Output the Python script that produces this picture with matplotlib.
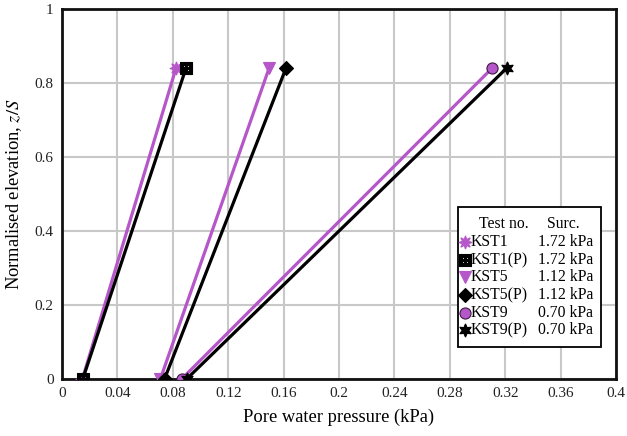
import numpy as np
import matplotlib
matplotlib.use("Agg")
import matplotlib.pyplot as plt
from matplotlib.path import Path
from matplotlib.patches import Rectangle

plt.rcParams["font.family"] = ["Liberation Serif", "DejaVu Serif"]
plt.rcParams["mathtext.fontset"] = "stix"

# Test series: pore water pressure (kPa) at the base (z/S = 0) and near the top (z/S = 0.84)
tests = ["KST1", "KST1(P)", "KST5", "KST5(P)", "KST9", "KST9(P)"]
surcharge = ["1.72 kPa", "1.72 kPa", "1.12 kPa", "1.12 kPa", "0.70 kPa", "0.70 kPa"]
elevation = [0.0, 0.84]
pwp_kst1 = [0.0147, 0.0823]
pwp_kst1p = [0.0150, 0.0895]
pwp_kst5 = [0.0710, 0.1495]
pwp_kst5p = [0.0740, 0.1617]
pwp_kst9 = [0.0864, 0.3105]
pwp_kst9p = [0.0900, 0.3210]
series = [pwp_kst1, pwp_kst1p, pwp_kst5, pwp_kst5p, pwp_kst9, pwp_kst9p]

x_ticks = [0, 0.04, 0.08, 0.12, 0.16, 0.2, 0.24, 0.28, 0.32, 0.36, 0.4]
x_tick_labels = ["0", "0.04", "0.08", "0.12", "0.16", "0.2", "0.24", "0.28", "0.32", "0.36", "0.4"]
y_ticks = [0, 0.2, 0.4, 0.6, 0.8, 1.0]
y_tick_labels = ["0", "0.2", "0.4", "0.6", "0.8", "1"]

PURPLE = "#B657C9"
BLACK = "#000000"


def dotted_square():
    # filled square with four small square holes
    verts, codes = [], []
    def sq(cx, cy, h, ccw):
        pts = [(cx - h, cy - h), (cx + h, cy - h), (cx + h, cy + h), (cx - h, cy + h)]
        if not ccw:
            pts = pts[::-1]
        verts.extend(pts + [pts[0]])
        codes.extend([Path.MOVETO, Path.LINETO, Path.LINETO, Path.LINETO, Path.CLOSEPOLY])
    sq(0, 0, 1.0, True)
    for dx in (-0.33, 0.33):
        for dy in (-0.33, 0.33):
            sq(dx, dy, 0.14, False)
    return Path(verts, codes)


styles = [
    dict(color=PURPLE, marker=(8, 1, 0), ms=9.5, mfc=PURPLE, mec=PURPLE),
    dict(color=BLACK, marker=dotted_square(), ms=9, mfc=BLACK, mec=BLACK),
    dict(color=PURPLE, marker="v", ms=8, mfc=PURPLE, mec=PURPLE),
    dict(color=BLACK, marker="D", ms=7, mfc=BLACK, mec=BLACK),
    dict(color=PURPLE, marker="o", ms=8, mfc=PURPLE, mec="#3a1a40"),
    dict(color=BLACK, marker=(6, 1, 0), ms=9.5, mfc=BLACK, mec=BLACK),
]

fig = plt.figure(figsize=(6.27, 4.36), dpi=100)
ax = fig.add_axes([0.0989, 0.1307, 0.8836, 0.8487])

for vals, st in zip(series, styles):
    ax.plot(vals, elevation, lw=2.3, mew=0.8, zorder=3, **st)

ax.set_xlim(0, 0.4)
ax.set_ylim(0, 1)
ax.set_xticks(x_ticks)
ax.set_xticklabels(x_tick_labels)
ax.set_yticks(y_ticks)
ax.set_yticklabels(y_tick_labels)
ax.tick_params(length=0, labelsize=11, pad=6, colors="#222222")
ax.grid(True, color="#C8C8C8", lw=1.5)
ax.set_axisbelow(True)
for s in ax.spines.values():
    s.set_linewidth(2)
    s.set_color("#111111")

ax.set_xlabel("Pore water pressure (kPa)", fontsize=13.3, labelpad=6)
ax.set_ylabel("Normalised elevation, $\\it{z/S}$", fontsize=13.3, labelpad=8)

# Legend panel drawn in axes fractions
def px_x(p):
    return (p - 62) / (616 - 62)

def px_y(p):
    return (379 - p) / (379 - 9)

ax.add_patch(Rectangle((px_x(458), px_y(347)), px_x(601) - px_x(458), px_y(207) - px_y(347),
                       transform=ax.transAxes, facecolor="white", edgecolor="black",
                       lw=1.3, zorder=5))
ax.text(px_x(479), px_y(224), "Test no.", transform=ax.transAxes, fontsize=11.3,
        va="center", ha="left", zorder=6)
ax.text(px_x(547), px_y(224), "Surc.", transform=ax.transAxes, fontsize=11.3,
        va="center", ha="left", zorder=6)
row_y = [242, 260, 277, 295, 313, 330]
for name, sur, st, ry in zip(tests, surcharge, styles, row_y):
    ax.plot([px_x(465)], [px_y(ry)], transform=ax.transAxes, linestyle="none",
            marker=st["marker"], ms=st["ms"], mfc=st["mfc"], mec=st["mec"],
            mew=0.8, zorder=7, clip_on=False)
    ax.text(px_x(471), px_y(ry), name, transform=ax.transAxes, fontsize=11.3,
            va="center", ha="left", zorder=6)
    ax.text(px_x(593), px_y(ry), sur, transform=ax.transAxes, fontsize=11.3,
            va="center", ha="right", zorder=6)

fig.savefig("out.png", dpi=100)
